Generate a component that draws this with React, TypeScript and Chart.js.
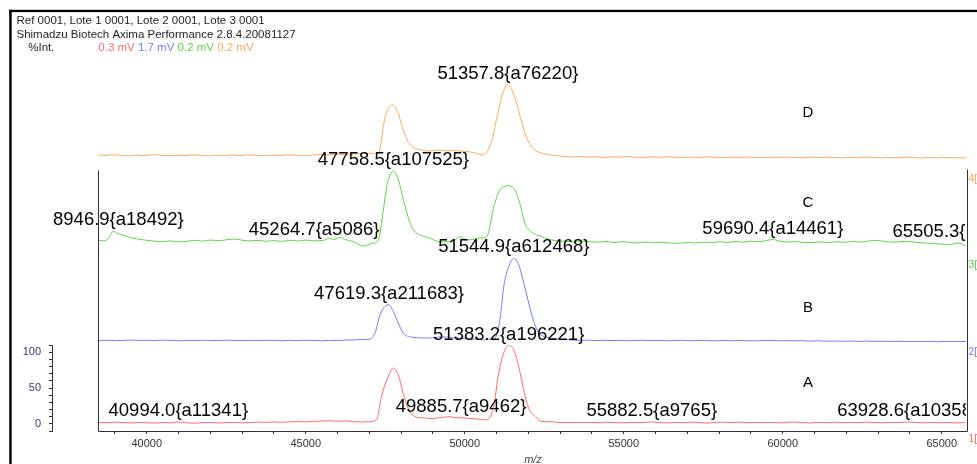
import React, { useEffect, useRef } from 'react';
import { Chart, registerables } from 'chart.js';

Chart.register(...registerables);

type Point = [number, number];

// m/z, relative intensity (each channel in its own units before stacking)
const traceA: Point[] = [
  [38470, 2.0], [38750, 1.6], [39000, 2.3], [39250, 1.7], [39500, 1.2], [39750, 2.0], [40000, 1.5],
  [40250, 1.0], [40500, 1.8], [40750, 1.3], [40994.0, 2.6], [41250, 1.4], [41500, 0.9], [41750, 1.6],
  [42000, 1.9], [42250, 1.2], [42500, 1.7], [42750, 2.2], [43000, 1.5], [43250, 1.9], [43500, 2.4],
  [43750, 2.0], [44000, 2.6], [44250, 2.1], [44500, 2.8], [44750, 3.2], [45000, 2.7], [45250, 3.4],
  [45500, 3.9], [45750, 4.3], [46000, 3.6], [46250, 3.9], [46500, 3.1], [46750, 2.6], [47000, 3.0],
  [47227, 5.6], [47383, 38.1], [47594, 66.1], [47751, 77.8], [47908, 68.4], [48065, 42.9], [48223, 21.9],
  [48430, 10.2], [48600, 8.6], [48805, 8.0], [49000, 7.4], [49250, 8.9], [49537, 10.0], [49700, 8.6],
  [49885.7, 8.5], [50062, 8.0], [50300, 7.0], [50500, 6.2], [50691, 5.6], [50911, 24.2], [51068, 70.8],
  [51225, 98.7], [51383.2, 109.5], [51540, 103.3], [51697, 80.0], [51854, 47.5], [52011, 21.9],
  [52219, 10.2], [52429, 3.2], [52681, 3.0], [52900, 2.1], [53206, 1.6], [53500, 2.2], [53750, 1.7],
  [54000, 2.0], [54250, 1.5], [54500, 2.3], [54750, 1.8], [55000, 1.4], [55250, 2.1], [55500, 1.6],
  [55882.5, 2.6], [56100, 1.9], [56350, 1.3], [56600, 2.0], [56850, 1.6], [57100, 2.2], [57350, 1.7],
  [57600, 1.2], [57850, 1.9], [58100, 2.4], [58350, 1.8], [58600, 2.3], [58850, 1.5], [59100, 2.0],
  [59350, 1.6], [59600, 2.1], [59850, 1.4], [60100, 1.9], [60350, 2.5], [60600, 1.7], [60850, 1.3],
  [61100, 2.0], [61350, 1.6], [61600, 2.2], [61850, 1.5], [62100, 2.1], [62350, 1.7], [62600, 2.4],
  [62850, 1.8], [63100, 1.4], [63350, 2.0], [63600, 1.6], [63928.6, 2.6], [64200, 1.9], [64450, 1.4],
  [64700, 2.1], [64950, 1.5], [65200, 1.9], [65450, 1.3], [65760, 1.7],
];

const traceB: Point[] = [
  [38470, 4.3], [38750, 4.8], [39000, 4.1], [39250, 4.6], [39500, 5.0], [39750, 4.4], [40000, 4.7],
  [40250, 4.2], [40500, 4.9], [40750, 4.5], [41000, 4.0], [41250, 4.6], [41500, 4.3], [41750, 4.8],
  [42000, 4.2], [42250, 4.5], [42500, 4.9], [42750, 4.4], [43000, 4.1], [43250, 4.7], [43500, 4.3],
  [43750, 4.8], [44000, 4.5], [44250, 4.0], [44500, 4.6], [44750, 4.2], [45000, 4.8], [45250, 4.4],
  [45500, 4.1], [45750, 4.6], [46000, 4.3], [46250, 4.9], [46500, 5.2], [46750, 5.8], [47022, 6.3],
  [47179, 14.7], [47336, 40.2], [47493, 51.8], [47619.3, 54.2], [47754, 44.8], [47911, 28.6],
  [48069, 14.7], [48333, 9.1], [48550, 8.2], [48805, 7.7], [49050, 8.4], [49250, 9.4], [49434, 9.1],
  [49650, 8.0], [49852, 7.7], [50100, 6.6], [50350, 5.9], [50584, 5.3], [50750, 6.2], [50950, 7.7],
  [51121, 37.9], [51228, 79.8], [51386, 107.7], [51544.9, 119.1], [51700, 110.1], [51857, 84.5],
  [52014, 56.6], [52172, 30.9], [52329, 14.7], [52500, 10.0], [52747, 7.7], [53000, 6.0], [53310, 5.3],
  [53600, 4.6], [53850, 4.9], [54100, 4.3], [54350, 4.7], [54600, 4.2], [54850, 4.6], [55100, 4.1],
  [55350, 4.5], [55600, 4.8], [55850, 4.2], [56100, 4.6], [56350, 4.0], [56600, 4.4], [56850, 4.7],
  [57100, 4.1], [57350, 4.5], [57600, 4.2], [57850, 3.9], [58100, 4.4], [58350, 4.0], [58600, 4.5],
  [58850, 4.1], [59100, 3.8], [59350, 4.2], [59600, 4.5], [59850, 4.0], [60100, 4.3], [60350, 3.9],
  [60600, 4.2], [60850, 3.6], [61100, 3.9], [61350, 3.4], [61600, 3.7], [61850, 3.3], [62100, 3.6],
  [62350, 3.2], [62600, 3.5], [62850, 3.1], [63100, 3.4], [63350, 3.0], [63600, 3.3], [63850, 2.9],
  [64100, 3.2], [64350, 2.8], [64600, 3.1], [64850, 2.7], [65100, 3.0], [65350, 2.8], [65760, 3.0],
];

const traceC: Point[] = [
  [38470, 11.8], [38650, 10.6], [38800, 14.2], [38946.9, 23.9], [39100, 20.6], [39250, 18.7],
  [39500, 15.1], [39750, 12.9], [40000, 11.3], [40250, 10.1], [40500, 9.4], [40750, 10.5], [41000, 9.1],
  [41250, 9.9], [41500, 11.3], [41750, 10.2], [42000, 11.7], [42250, 10.8], [42500, 12.0], [42750, 13.1],
  [43000, 11.5], [43250, 10.4], [43500, 11.2], [43750, 10.0], [44000, 10.9], [44250, 9.8], [44500, 11.3],
  [44750, 10.3], [45000, 11.6], [45264.7, 10.6], [45550, 11.2], [45750, 14.1], [45900, 12.1],
  [46080, 15.6], [46250, 12.3], [46500, 9.7], [46802, 3.4], [47000, 5.9], [47120, 7.1], [47286, 11.8],
  [47443, 53.7], [47547, 86.2], [47654, 102.5], [47758.5, 108.1], [47915, 95.6], [48072, 67.7],
  [48229, 42.6], [48386, 25.9], [48597, 18.9], [48911, 14.1], [49230, 9.4], [49537, 9.4], [49700, 12.0],
  [49852, 16.4], [50062, 11.8], [50300, 13.0], [50500, 14.5], [50691, 16.4], [50946, 63.4],
  [51156, 84.4], [51417, 87.2], [51575, 81.6], [51732, 63.4], [51889, 35.5], [52099, 23.3],
  [52414, 16.4], [52728, 11.8], [53000, 10.5], [53310, 9.4], [53600, 10.1], [53939, 9.4], [54200, 8.6],
  [54450, 9.8], [54700, 8.1], [54950, 9.3], [55200, 8.4], [55450, 7.6], [55700, 8.9], [55950, 7.9],
  [56200, 8.7], [56500, 7.4], [56768, 7.2], [57000, 8.3], [57250, 7.6], [57500, 8.8], [57750, 7.9],
  [58000, 9.2], [58250, 8.4], [58500, 9.6], [58750, 8.7], [59000, 10.1], [59250, 9.5], [59500, 11.0],
  [59690.4, 12.5], [59900, 10.2], [60150, 9.0], [60400, 9.6], [60650, 8.3], [60950, 8.2], [61200, 9.1],
  [61450, 8.0], [61700, 9.3], [61950, 8.5], [62200, 9.7], [62450, 8.8], [62700, 10.4], [62962, 11.0],
  [63276, 9.4], [63500, 8.7], [63750, 9.6], [64000, 9.4], [64250, 8.3], [64500, 7.5], [64750, 6.8],
  [65000, 5.9], [65250, 5.2], [65505.3, 7.5], [65760, 3.6],
];

const traceD: Point[] = [
  [38470, 5.6], [38700, 4.9], [38950, 5.8], [39200, 5.0], [39450, 4.2], [39700, 5.4], [39950, 4.6],
  [40200, 5.9], [40450, 5.1], [40700, 4.4], [40950, 5.3], [41200, 4.7], [41450, 5.6], [41700, 4.9],
  [41950, 4.3], [42200, 5.2], [42450, 4.6], [42700, 5.5], [42950, 4.8], [43200, 5.7], [43450, 5.0],
  [43700, 4.4], [43950, 5.3], [44200, 4.8], [44450, 5.6], [44700, 5.1], [44950, 4.5], [45200, 5.4],
  [45450, 6.1], [45700, 5.7], [45950, 6.4], [46200, 5.9], [46450, 6.6], [46700, 7.2], [46950, 7.8],
  [47279, 8.3], [47330, 12.4], [47477, 54.3], [47635, 72.9], [47751, 75.3], [47908, 64.1],
  [48065, 40.4], [48223, 24.0], [48380, 16.2], [48641, 12.4], [48850, 11.0], [49100, 11.8],
  [49223, 12.5], [49450, 11.2], [49700, 11.8], [49852, 11.0], [50100, 10.2], [50350, 8.0], [50584, 5.5],
  [50832, 22.4], [51043, 64.1], [51200, 92.1], [51357.8, 103.9], [51565, 86.9], [51775, 54.3],
  [51933, 31.0], [52143, 14.8], [52404, 8.3], [52719, 5.5], [53000, 4.1], [53310, 2.7], [53600, 3.4],
  [53850, 2.6], [54100, 3.1], [54350, 2.2], [54600, 2.9], [54850, 2.4], [55100, 3.3], [55350, 2.5],
  [55600, 2.0], [55850, 2.8], [56100, 2.3], [56350, 3.0], [56600, 2.4], [56850, 1.9], [57100, 2.6],
  [57350, 2.1], [57600, 2.9], [57850, 2.3], [58100, 1.8], [58350, 2.5], [58600, 2.0], [58850, 2.7],
  [59100, 2.2], [59350, 1.7], [59600, 2.4], [59850, 1.9], [60100, 2.6], [60350, 2.1], [60600, 1.6],
  [60850, 2.3], [61100, 1.8], [61350, 2.5], [61600, 2.0], [61850, 1.5], [62100, 2.2], [62350, 1.7],
  [62600, 2.4], [62850, 1.9], [63100, 1.4], [63350, 2.1], [63600, 1.6], [63850, 2.3], [64100, 1.8],
  [64350, 1.3], [64600, 2.0], [64850, 1.5], [65100, 2.2], [65350, 1.7], [65760, 1.4],
];

// Annotated peaks: m/z and integrated area
const peakMzA = [40994.0, 49885.7, 51383.2, 55882.5, 63928.6];
const peakAreaA = [11341, 9462, 196221, 9765, 10358];
const peakMzB = [47619.3, 51544.9];
const peakAreaB = [211683, 612468];
const peakMzC = [38946.9, 45264.7, 47758.5, 59690.4, 65505.3];
const peakAreaC = [18492, 5086, 107525, 14461, 8512];
const peakMzD = [51357.8];
const peakAreaD = [76220];

const channelNames = ['A', 'B', 'C', 'D'];
const channelTags = ['1[', '2[', '3[', '4['];
const channelVoltages = ['0.3 mV', '1.7 mV', '0.2 mV', '0.2 mV'];
const channelOffsets = [0, 112, 245, 370];
const channelColors = ['#ff6a6a', '#7a7aff', '#5cd646', '#ffa85e'];

const headerLines = [
  'Ref 0001, Lote 1 0001, Lote 2 0001, Lote 3 0001',
  'Shimadzu Biotech Axima Performance 2.8.4.20081127',
];
const intensityUnit = '%Int.';
const axisTitle = 'm/z';

const mzLabelTicks = [40000, 45000, 50000, 55000, 60000, 65000];
const mzMinorTicks = Array.from({ length: 27 }, (_, i) => 39000 + i * 1000);
const intensityTicks = [-10, 0, 10, 20, 30, 40, 50, 60, 70, 80, 90, 100, 110];
const intensityLabelTicks = [0, 50, 100];

// Layout levels in stacked intensity units
const tagLevels = [-21, 100, 221, 342];
const letterMz = 60796;
const letterLevels = [57, 162, 308, 434];
const frameTopLevel = 354;

const FONT = '"Liberation Sans", Arial, Helvetica, sans-serif';
const traces = [traceA, traceB, traceC, traceD];
const peakMz = [peakMzA, peakMzB, peakMzC, peakMzD];
const peakArea = [peakAreaA, peakAreaB, peakAreaC, peakAreaD];

const intensityAt = (trace: Point[], mz: number) => {
  const p = trace.find((q) => Math.abs(q[0] - mz) < 0.05);
  return p ? p[1] : 0;
};

const decorPlugin = {
  id: 'spectrumDecor',
  afterDraw(chart: any) {
    const { ctx, chartArea } = chart;
    const xs = chart.scales.x;
    const ys = chart.scales.y;
    ctx.save();

    // outer frame
    ctx.fillStyle = '#000';
    ctx.fillRect(9, 9.8, 968, 2.3);
    ctx.fillRect(9.2, 9.8, 2.5, chart.height);

    // header
    ctx.textAlign = 'left';
    ctx.textBaseline = 'alphabetic';
    ctx.font = `11.5px ${FONT}`;
    ctx.fillStyle = '#1e1e1e';
    ctx.fillText(headerLines[0], 16.5, 24);
    ctx.fillText(headerLines[1], 16.5, 37.7);
    ctx.fillText(intensityUnit, 28.3, 51);
    let hx = 98.3;
    channelVoltages.forEach((t, i) => {
      ctx.fillStyle = channelColors[i];
      ctx.fillText(t, hx, 51);
      hx += ctx.measureText(t + ' ').width;
    });

    // plot frame
    const x0 = Math.round(xs.getPixelForValue(traceA[0][0])) + 0.5;
    const x1 = Math.round(chartArea.right) + 0.5;
    const yTop = Math.round(ys.getPixelForValue(frameTopLevel)) + 0.5;
    const yBot = Math.round(chartArea.bottom) + 0.5;
    ctx.strokeStyle = '#333';
    ctx.lineWidth = 1;
    ctx.beginPath();
    ctx.moveTo(x0, yTop);
    ctx.lineTo(x0, yBot);
    ctx.lineTo(x1, yBot);
    ctx.lineTo(x1, yTop - 1);
    ctx.stroke();

    // intensity bracket
    const bx = Math.round(chartArea.left) - 0.5;
    ctx.beginPath();
    ctx.moveTo(bx, Math.round(ys.getPixelForValue(intensityTicks[intensityTicks.length - 1])) + 0.5);
    ctx.lineTo(bx, Math.round(ys.getPixelForValue(intensityTicks[0])) + 0.5);
    ctx.stroke();

    // peak annotations
    ctx.save();
    ctx.beginPath();
    ctx.rect(chartArea.left, 0, chartArea.right - chartArea.left - 1, chart.height);
    ctx.clip();
    ctx.font = `18.5px ${FONT}`;
    ctx.fillStyle = '#000';
    ctx.textAlign = 'center';
    ctx.textBaseline = 'middle';
    peakMz.forEach((list, ch) => {
      list.forEach((mz, k) => {
        const v = intensityAt(traces[ch], mz) + channelOffsets[ch];
        const px = xs.getPixelForValue(mz);
        const py = ys.getPixelForValue(v) - 11;
        ctx.fillText(`${mz.toFixed(1)}{a${peakArea[ch][k]}}`, px, py);
      });
    });
    ctx.restore();

    // channel letters
    ctx.font = `15px ${FONT}`;
    ctx.fillStyle = '#000';
    ctx.textAlign = 'center';
    ctx.textBaseline = 'middle';
    channelNames.forEach((n, i) => {
      ctx.fillText(n, xs.getPixelForValue(letterMz), ys.getPixelForValue(letterLevels[i]));
    });

    // channel tags on the right edge
    ctx.font = `10.5px ${FONT}`;
    ctx.textAlign = 'left';
    channelTags.forEach((t, i) => {
      ctx.fillStyle = channelColors[i];
      ctx.fillText(t, chartArea.right + 1.5, ys.getPixelForValue(tagLevels[i]));
    });

    // axis title
    ctx.font = `italic 11px ${FONT}`;
    ctx.fillStyle = '#444';
    ctx.textAlign = 'center';
    ctx.fillText(axisTitle, (x0 + x1) / 2, 459.5);

    ctx.restore();
  },
};

export default function App() {
  const ref = useRef<HTMLCanvasElement>(null);

  useEffect(() => {
    if (!ref.current) return;
    const chart = new Chart(ref.current, {
      type: 'line',
      data: {
        datasets: traces.map((t, i) => ({
          label: channelNames[i],
          data: t.map(([mz, v]) => ({ x: mz, y: v + channelOffsets[i] })),
          borderColor: channelColors[i],
          backgroundColor: channelColors[i],
          borderWidth: 1,
          pointRadius: 0,
          fill: false,
          cubicInterpolationMode: 'monotone' as const,
        })),
      },
      options: {
        responsive: false,
        animation: false,
        devicePixelRatio: 1,
        events: [],
        layout: { padding: { left: 8, right: 10, top: 50, bottom: 0 } },
        plugins: {
          legend: { display: false },
          tooltip: { enabled: false },
          title: { display: false },
        },
        scales: {
          x: {
            type: 'linear',
            min: 37053.5,
            max: 65795.6,
            afterFit: (s: any) => {
              s.height = 33;
            },
            afterBuildTicks: (s: any) => {
              s.ticks = mzMinorTicks.map((value) => ({ value }));
            },
            ticks: {
              autoSkip: false,
              maxRotation: 0,
              padding: 3,
              color: '#333',
              font: { family: FONT, size: 11 },
              callback: (v: any) => (mzLabelTicks.includes(Number(v)) ? String(v) : ''),
            },
            grid: { drawOnChartArea: false, drawTicks: true, tickLength: 3, tickColor: '#333' },
            border: { display: false },
          },
          y: {
            type: 'linear',
            min: -10,
            max: 522.1,
            afterFit: (s: any) => {
              s.width = 45;
            },
            afterBuildTicks: (s: any) => {
              s.ticks = intensityTicks.map((value) => ({ value }));
            },
            ticks: {
              autoSkip: false,
              padding: 8,
              color: '#3a3a66',
              font: { family: FONT, size: 11 },
              callback: (v: any) => (intensityLabelTicks.includes(Number(v)) ? String(v) : ''),
            },
            grid: { drawOnChartArea: false, drawTicks: true, tickLength: 4, tickColor: '#333' },
            border: { display: false },
          },
        },
      },
      plugins: [decorPlugin],
    });
    return () => chart.destroy();
  }, []);

  return (
    <div style={{ position: 'absolute', left: 0, top: 0, width: 977, height: 464, background: '#fff' }}>
      <canvas ref={ref} width={977} height={464} style={{ display: 'block' }} />
    </div>
  );
}
